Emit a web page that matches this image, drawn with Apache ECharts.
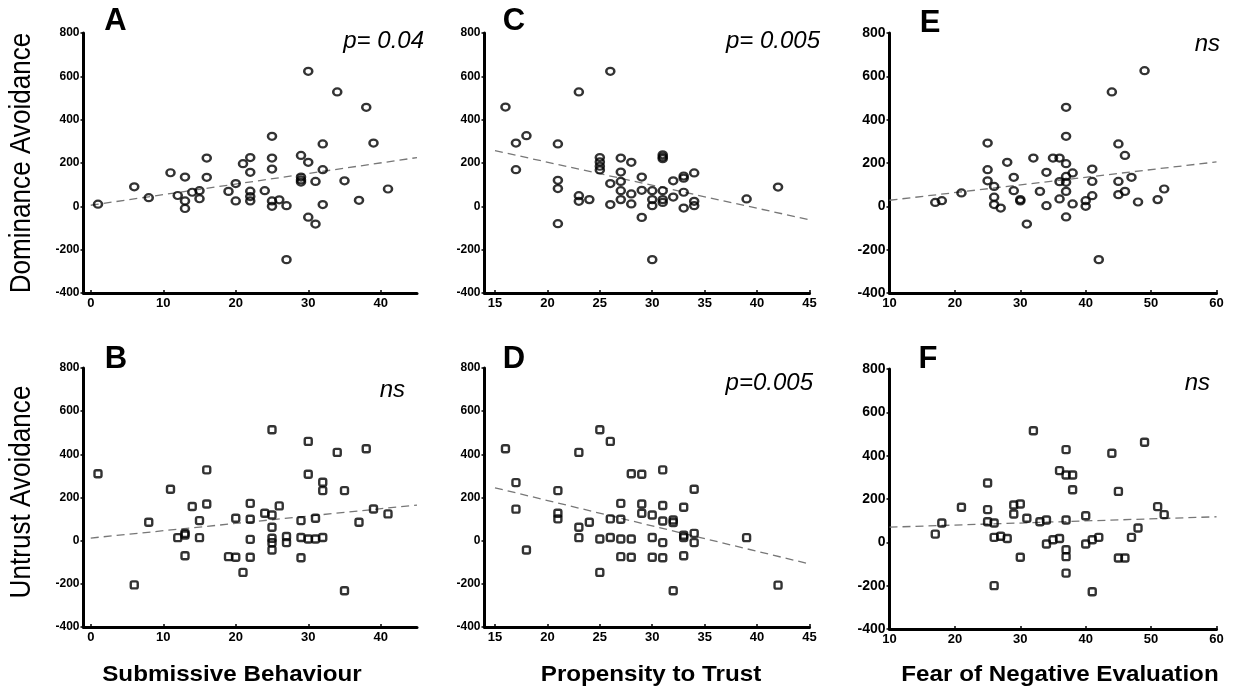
<!DOCTYPE html>
<html>
<head>
<meta charset="utf-8">
<title>Avoidance scatter</title>
<script src="https://cdn.jsdelivr.net/npm/echarts@6/dist/echarts.min.js"></script>
<style>
  body { margin: 0; background: #fff; }
  #main { width: 1236px; height: 692px; }
</style>
</head>
<body>
<div id="main"></div>
<script type="text/javascript">
// panel A: submissive behaviour vs dominance avoidance
var ptsA = [[1,10],[6,90],[8,40],[11,155],[12,50],[13,135],[13,25],[13,-10],[14,65],[15,72],[15,35],[16,223],[16,134],
  [19,69],[20,105],[20,25],[21,197],[22,225],[22,157],[22,70],[22,45],[22,25],[24,72],[25,323],[25,223],[25,172],[25,25],
  [25,0],[26,30],[27,3],[27,-246],[29,235],[29,135],[29,122],[29,112],[30,623],[30,203],[30,-50],[31,115],[31,-82],
  [32,288],[32,169],[32,8],[34,528],[35,118],[37,28],[38,457],[39,292],[41,80]];
// panel C: propensity to trust vs dominance avoidance
var ptsC = [[16,458],[17,292],[17,169],[18,326],[21,288],[21,120],[21,82],[21,-80],[23,528],[23,49],[23,23],[24,31],
  [25,225],[25,205],[25,185],[25,168],[26,623],[26,105],[26,8],[27,223],[27,158],[27,115],[27,72],[27,31],[28,203],
  [28,57],[28,11],[29,135],[29,74],[29,-51],[30,72],[30,31],[30,3],[30,-246],[31,238],[31,228],[31,220],[31,72],[31,31],
  [31,18],[32,118],[32,43],[33,140],[33,130],[33,65],[33,-8],[34,154],[34,23],[34,3],[39,34],[42,89]];
// panel E: fear of negative evaluation vs dominance avoidance
var ptsE = [[17,18],[18,26],[21,62],[25,292],[25,169],[25,118],[26,92],[26,42],[26,8],[27,-8],[28,203],[29,134],[29,72],
  [30,31],[30,25],[31,-82],[32,223],[33,69],[34,157],[34,3],[35,223],[36,223],[36,114],[36,34],[37,457],[37,323],[37,197],
  [37,138],[37,111],[37,69],[37,-49],[38,154],[38,11],[40,26],[40,0],[41,172],[41,115],[41,49],[42,-246],[44,528],
  [45,288],[45,115],[45,54],[46,235],[46,69],[47,134],[48,20],[49,626],[51,31],[52,80]];
// panel B: submissive behaviour vs untrust avoidance
var ptsB = [[1,310],[6,-205],[8,85],[11,238],[12,14],[13,34],[13,26],[13,-70],[14,158],[15,93],[15,14],[16,328],[16,170],
  [19,-74],[20,104],[20,-77],[21,-147],[22,173],[22,99],[22,6],[22,-77],[24,127],[25,514],[25,119],[25,62],[25,11],
  [25,-9],[25,-43],[26,161],[27,19],[27,-9],[29,93],[29,15],[29,-79],[30,460],[30,308],[30,8],[31,104],[31,8],[32,271],
  [32,232],[32,15],[34,409],[35,232],[35,-232],[37,85],[38,426],[39,147],[41,124]];
// panel D: propensity to trust vs untrust avoidance
var ptsD = [[16,426],[17,269],[17,146],[18,-43],[21,232],[21,127],[21,101],[23,409],[23,62],[23,14],[24,85],[25,514],
  [25,8],[25,-147],[26,460],[26,101],[26,15],[27,173],[27,99],[27,8],[27,-74],[28,310],[28,8],[28,-77],[29,308],[29,170],
  [29,127],[30,119],[30,15],[30,-77],[31,328],[31,163],[31,91],[31,-9],[31,-79],[32,96],[32,84],[32,-232],[33,155],
  [33,25],[33,15],[33,-70],[34,238],[34,34],[34,-9],[39,14],[42,-206]];
// panel F: fear of negative evaluation vs untrust avoidance
var ptsF = [[17,38],[18,89],[21,162],[25,274],[25,151],[25,95],[26,89],[26,23],[26,-200],[27,28],[28,18],[29,172],
  [30,177],[29,131],[30,-69],[31,111],[32,515],[33,95],[34,103],[34,-8],[35,12],[36,18],[36,331],[37,428],[37,311],
  [37,103],[37,-34],[37,-66],[37,-142],[38,311],[38,243],[40,123],[40,-8],[41,12],[42,23],[41,-228],[44,411],[45,235],
  [45,-72],[46,-72],[47,23],[48,66],[49,462],[51,165],[52,128]];

// regression lines, end points
var fitA = [[0,5],[45,225]];
var fitC = [[15,257],[45,-62]];
var fitE = [[10,28],[60,205]];
var fitB = [[0,12],[45,165]];
var fitD = [[15,245],[45,-108]];
var fitF = [[10,70],[60,118]];

var ticksSub = [0,10,20,30,40];
var ticksTrust = [15,20,25,30,35,40,45];
var ticksFear = [10,20,30,40,50,60];

var letters = ['A','C','E','B','D','F'];
var pLabels = ['p= 0.04','p= 0.005','ns','ns','p=0.005','ns'];
var yTitles = ['Dominance Avoidance','Untrust Avoidance'];
var xTitles = ['Submissive Behaviour','Propensity to Trust','Fear of Negative Evaluation'];

var FONT = '"Liberation Sans", Arial, sans-serif';
var chart = echarts.init(document.getElementById('main'));

// panel order: A C E / B D F
var panels = [
  {pts: ptsA, fit: fitA, ticks: ticksSub,   min: -1, max: 45, left: 83.5,  width: 333.5, top: 33,  height: 260, sym: 'circle',    ylab: 12},
  {pts: ptsC, fit: fitC, ticks: ticksTrust, min: 14, max: 45, left: 484.5, width: 325,   top: 33,  height: 260, sym: 'circle',    ylab: 12},
  {pts: ptsE, fit: fitE, ticks: ticksFear,  min: 10, max: 60, left: 889.5, width: 327,   top: 33,  height: 260, sym: 'circle',    ylab: 14},
  {pts: ptsB, fit: fitB, ticks: ticksSub,   min: -1, max: 45, left: 83.5,  width: 333.5, top: 368, height: 259, sym: 'roundRect', ylab: 12},
  {pts: ptsD, fit: fitD, ticks: ticksTrust, min: 14, max: 45, left: 484.5, width: 325,   top: 368, height: 259, sym: 'roundRect', ylab: 12},
  {pts: ptsF, fit: fitF, ticks: ticksFear,  min: 10, max: 60, left: 889.5, width: 327,   top: 369, height: 260, sym: 'roundRect', ylab: 14}
];

var grids = [], xAxes = [], yAxes = [], series = [];
panels.forEach(function (p, i) {
  grids.push({left: p.left, top: p.top, width: p.width, height: p.height});
  xAxes.push({
    type: 'value', gridIndex: i, min: p.min, max: p.max,
    axisLine: {onZero: false, lineStyle: {color: '#000', width: 3}},
    axisTick: {inside: true, length: 3, customValues: p.ticks, lineStyle: {color: '#000', width: 1.5}},
    axisLabel: {customValues: p.ticks, color: '#000', fontFamily: FONT, fontWeight: 'bold', fontSize: 13, margin: 4},
    splitLine: {show: false}
  });
  yAxes.push({
    type: 'value', gridIndex: i, min: -400, max: 800, interval: 200,
    axisLine: {show: true, onZero: false, lineStyle: {color: '#000', width: 3}},
    axisTick: {show: true, length: 3, lineStyle: {color: '#000', width: 1.5}},
    axisLabel: {color: '#000', fontFamily: FONT, fontWeight: 'bold', fontSize: p.ylab, margin: 4},
    splitLine: {show: false}
  });
  series.push({
    type: 'scatter', xAxisIndex: i, yAxisIndex: i, data: p.pts,
    symbol: p.sym, symbolSize: p.sym === 'circle' ? [8, 7] : 7,
    itemStyle: {color: 'rgba(0,0,0,0)', borderColor: '#000', borderWidth: 2.4},
    z: 3
  });
  series.push({
    type: 'line', xAxisIndex: i, yAxisIndex: i, data: p.fit,
    symbol: 'none', silent: true,
    lineStyle: {color: '#777', width: 1.3, type: [8, 5]},
    z: 2
  });
});

// letters, p values and axis titles
var letterPos = [[115.5,21.5],[514,21],[930,23],[116,359],[514,359],[928,359]];
var pPos = [[424,41],[820,41.5],[1220,44],[405,390],[813,383.5],[1210,383.5]];
var graphics = [];
letters.forEach(function (t, i) {
  graphics.push({type: 'text', x: letterPos[i][0], y: letterPos[i][1],
    style: {text: t, fill: '#000', font: 'bold 31px ' + FONT, textAlign: 'center', textVerticalAlign: 'middle'}});
});
pLabels.forEach(function (t, i) {
  graphics.push({type: 'text', x: pPos[i][0], y: pPos[i][1],
    style: {text: t, fill: '#000', font: 'italic 24px ' + FONT, textAlign: 'right', textVerticalAlign: 'middle'}});
});
var yTitlePos = [[21.5,163],[21.5,492]];
yTitles.forEach(function (t, i) {
  graphics.push({type: 'text', x: yTitlePos[i][0], y: yTitlePos[i][1], rotation: Math.PI / 2, scaleX: 0.9,
    style: {text: t, fill: '#000', font: '29px ' + FONT, textAlign: 'center', textVerticalAlign: 'middle'}});
});
var xTitlePos = [[232,675],[651,675],[1060,675]];
xTitles.forEach(function (t, i) {
  graphics.push({type: 'text', x: xTitlePos[i][0], y: xTitlePos[i][1], scaleX: 1.1,
    style: {text: t, fill: '#000', font: 'bold 22px ' + FONT, textAlign: 'center', textVerticalAlign: 'middle'}});
});

chart.setOption({
  animation: false,
  grid: grids,
  xAxis: xAxes,
  yAxis: yAxes,
  series: series,
  graphic: graphics
});
</script>
</body>
</html>
